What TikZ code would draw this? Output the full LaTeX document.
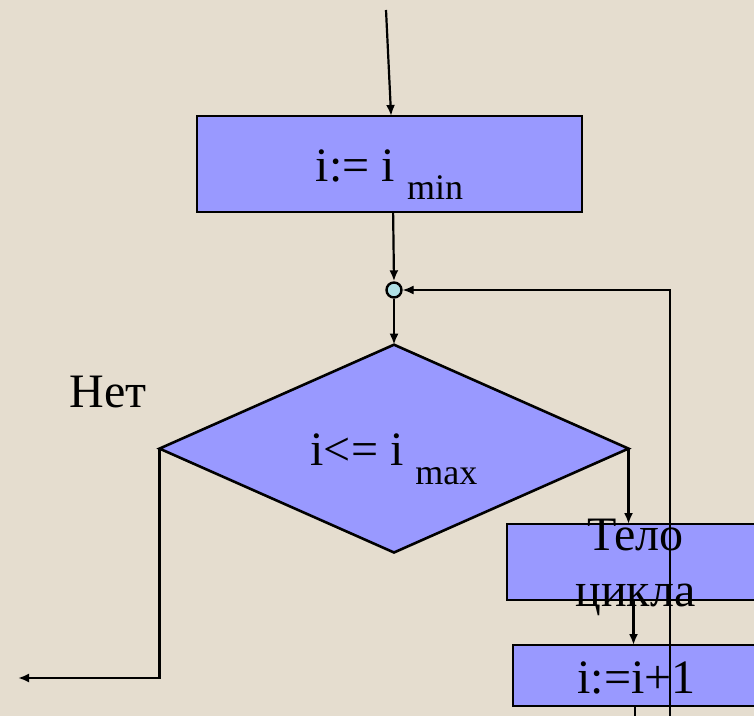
\documentclass[tikz,border=0pt]{standalone}
\usepackage{fontspec}
\setmainfont{Liberation Serif}
\usetikzlibrary{shapes,arrows.meta,positioning,calc}

\definecolor{fondo}{RGB}{229,221,207}
\definecolor{blocco}{RGB}{153,153,255}
\definecolor{giunto}{RGB}{176,224,230}

\begin{document}
\begin{tikzpicture}[x=0.5pt, y=-0.5pt, every node/.style={font=\rmfamily\fontsize{24}{28}\selectfont},
		blk/.style={rectangle, draw, line width=1.3pt, fill=blocco, inner sep=0pt, outer sep=0pt},
		arr/.style={line width=1.1pt, -{Latex[length=5.5pt,width=4.5pt]}}]
				\clip (0,0) rectangle (754,716);
				\fill[fondo] (0,0) rectangle (754,716);
				
				\node[blk, minimum width=192.5pt, minimum height=48pt, text height=20pt, text depth=2pt] (init) at (389.5,164) {i:= i \raisebox{-9pt}{\fontsize{18}{18}\selectfont min}};
				\node[circle, draw, line width=1.2pt, fill=giunto, minimum size=7.5pt, inner sep=0pt] (join) at (394,290) {};
				\node[diamond, draw, line width=1.3pt, fill=blocco, minimum width=234.5pt, minimum height=103.5pt, inner sep=0pt, outer sep=0pt, text height=18.5pt, text depth=2pt, below=23pt of join] (cond) {i<= i \raisebox{-9.5pt}{\fontsize{18}{18}\selectfont max}};
				\node[blk, minimum width=126.5pt, minimum height=38pt] (body) at (633.5,562) {};
				\node[align=center, inner sep=0pt] (bodytxt) at ($(body.center)+(2,5)$) {Тело\\цикла};
				\node[blk, minimum width=123.5pt, minimum height=30.5pt, text height=19.5pt, text depth=2pt, below=22.5pt of body, xshift=1.5pt] (step) {i:=i+1\hspace{9pt}};
				\node (no) at (108,392) {Нет};
				
				\coordinate (entry) at (386,10);
				\coordinate (exit) at (18,678);
				\coordinate (loop) at (670,290);
				
				\draw[arr] (entry) -- ([xshift=0.8pt]init.north);
				\draw[arr] ([xshift=1.8pt]init.south) -- (join.north);
				\draw[arr] (join.south) -- (cond.north);
				\draw[arr] (cond.west) |- (exit);
				\draw[arr] (cond.east) -- (cond.east |- body.north);
				\draw[arr] (body.south) -- (body.south |- step.north);
				\draw[arr, line width=0.7pt] ([xshift=-0.8pt]step.south) -- ++(0,20) -| (loop) -- (join.east);
			\end{tikzpicture}
\end{document}
